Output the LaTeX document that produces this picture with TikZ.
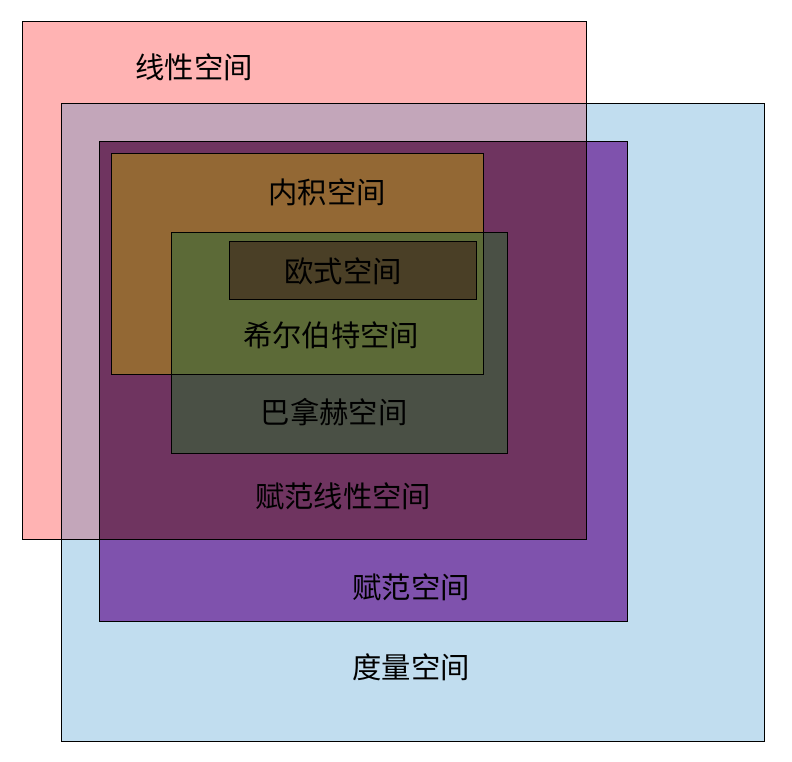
\documentclass[tikz,border=0pt]{standalone}
\usepackage{fontspec}
\newfontfamily\cjk{Noto Sans CJK SC}

% colours as they show where the boxes overlap
\definecolor{linfill}{HTML}{FFB3B3}
\definecolor{metfill}{HTML}{C1DDEF}
\definecolor{linmet}{HTML}{C3A6BA}
\definecolor{normfill}{HTML}{7F52AD}
\definecolor{normlin}{HTML}{6F3460}
\definecolor{innerfill}{HTML}{936834}
\definecolor{banfill}{HTML}{4A5045}
\definecolor{hilbfill}{HTML}{5C6A37}
\definecolor{euclfill}{HTML}{4A3F26}

\begin{document}
\begin{tikzpicture}[x=0.75pt,y=-0.75pt]

  \tikzset{box/.style={draw=black, line width=0.7pt},
           lbl/.style={font=\cjk\fontsize{22}{26}\selectfont, inner sep=0pt}}

  \useasboundingbox (0,0) rectangle (792,762);

  % corners of the boxes
  \coordinate (lin1)   at (22,21);   \coordinate (lin2)   at (586,539);
  \coordinate (met1)   at (61,103);  \coordinate (met2)   at (764,741);
  \coordinate (norm1)  at (99,141);  \coordinate (norm2)  at (627,621);
  \coordinate (inner1) at (111,153); \coordinate (inner2) at (483,374);
  \coordinate (ban1)   at (171,232); \coordinate (ban2)   at (507,453);
  \coordinate (eucl1)  at (229,241); \coordinate (eucl2)  at (476,299);

  % fills
  \fill[linfill]  (lin1)  rectangle (lin2);
  \fill[metfill]  (met1)  rectangle (met2);
  \fill[normfill] (norm1) rectangle (norm2);
  \begin{scope}
    \clip (lin1) rectangle (lin2);
    \fill[linmet]  (met1)  rectangle (met2);
    \fill[normlin] (norm1) rectangle (norm2);
  \end{scope}
  \fill[innerfill] (inner1) rectangle (inner2);
  \fill[banfill]   (ban1)   rectangle (ban2);
  \begin{scope}
    \clip (inner1) rectangle (inner2);
    \fill[hilbfill] (ban1) rectangle (ban2);
  \end{scope}
  \fill[euclfill] (eucl1) rectangle (eucl2);

  % outlines
  \draw[box] (lin1)   rectangle (lin2);
  \draw[box] (met1)   rectangle (met2);
  \draw[box] (norm1)  rectangle (norm2);
  \draw[box] (inner1) rectangle (inner2);
  \draw[box] (ban1)   rectangle (ban2);
  \draw[box] (eucl1)  rectangle (eucl2);

  % labels
  \node[lbl] (linear)  at (194,67)  {线性空间};
  \node[lbl] (inner)   at (327,192) {内积空间};
  \node[lbl] (eucl)    at (343,271) {欧式空间};
  \node[lbl] (hilbert) at (331,335) {希尔伯特空间};
  \node[lbl] (banach)  at (334,412) {巴拿赫空间};
  \node[lbl] (normlin) at (343,496) {赋范线性空间};
  \node[lbl] (normed)  at (411,587) {赋范空间};
  \node[lbl] (metric)  at (411,667) {度量空间};

\end{tikzpicture}
\end{document}
